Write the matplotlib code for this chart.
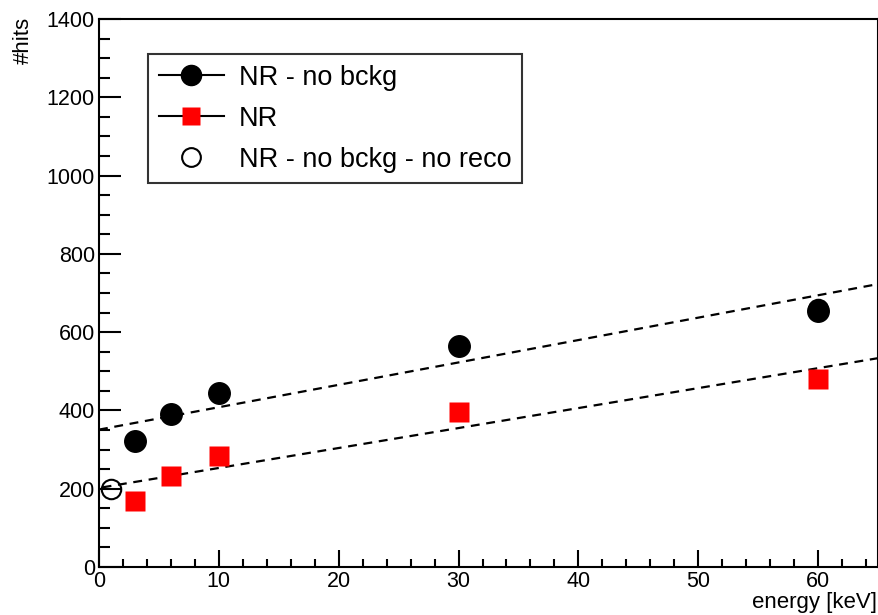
import matplotlib
matplotlib.use("Agg")
import matplotlib.pyplot as plt
import numpy as np
from matplotlib.ticker import MultipleLocator
from matplotlib.lines import Line2D

plt.rcParams['font.family'] = ['Liberation Sans', 'DejaVu Sans']

# data
energy = [3, 6, 10, 30, 60]
hits_nobckg = [323, 392, 445, 565, 654]
hits_nr = [168, 232, 283, 397, 481]
energy_noreco = [1, 60]
hits_noreco = [199, 659]
# linear fits: (intercept, slope, x_start, x_end)
fit_nobckg = (351, 5.72, 0.0, 65.0)
fit_nr = (202, 5.1, 0.3, 65.0)

L, R, T, B = 99, 878, 19, 567
fig = plt.figure(figsize=(8.79, 6.15), dpi=100)
ax = fig.add_axes([L/879, (615-B)/615, (R-L)/879, (B-T)/615])

for p in (fit_nobckg, fit_nr):
    xs = np.array([p[2], p[3]])
    ax.plot(xs, p[0] + p[1]*xs, ls=(0, (4, 3)), color='black', lw=1.6, zorder=2)

ax.plot(energy, hits_nobckg, 'o', color='black', ms=15.5, zorder=3)
ax.plot(energy, hits_nr, 's', color='#ff0000', ms=14.5, mec='none', zorder=3)
ax.plot(energy_noreco, hits_noreco, 'o', mfc='none', mec='black', mew=1.5, ms=14, zorder=4)

ax.set_xlim(0, 65)
ax.set_ylim(0, 1400)
ax.xaxis.set_major_locator(MultipleLocator(10))
ax.xaxis.set_minor_locator(MultipleLocator(2))
ax.yaxis.set_major_locator(MultipleLocator(200))
ax.yaxis.set_minor_locator(MultipleLocator(50))
ax.tick_params(axis='both', which='both', direction='in', top=False, right=False,
               labelsize=15.5, width=1.5, color='black')
ax.tick_params(axis='y', which='major', length=16, pad=3)
ax.tick_params(axis='y', which='minor', length=8)
ax.tick_params(axis='x', which='major', length=12, pad=3)
ax.tick_params(axis='x', which='minor', length=6)
for s in ax.spines.values():
    s.set_linewidth(1.5)

fig.text(877/879, 1-613/615, 'energy [keV]', ha='right', va='bottom', fontsize=16)
fig.text(23/879, 1-17/615, '#hits', ha='center', va='top', rotation=90, fontsize=16)

handles = [
    Line2D([], [], color='black', lw=1.5, marker='o', ms=14.5, mfc='black', mec='black'),
    Line2D([], [], color='black', lw=1.5, marker='s', ms=13.5, mfc='#ff0000', mec='none'),
    Line2D([], [], ls='none', marker='o', ms=13.5, mfc='none', mec='black', mew=1.5),
]
labels = ['NR - no bckg', 'NR', 'NR - no bckg - no reco']
leg = ax.legend(handles, labels, loc='upper left',
                bbox_to_anchor=((148-L)/(R-L), (B-54)/(B-T)),
                fontsize=19.5, frameon=True, fancybox=False, edgecolor='black',
                handlelength=2.4, handletextpad=0.55, borderpad=0.4, labelspacing=0.55,
                borderaxespad=0)
leg.get_frame().set_linewidth(1.5)

fig.savefig('out.png', dpi=100)
